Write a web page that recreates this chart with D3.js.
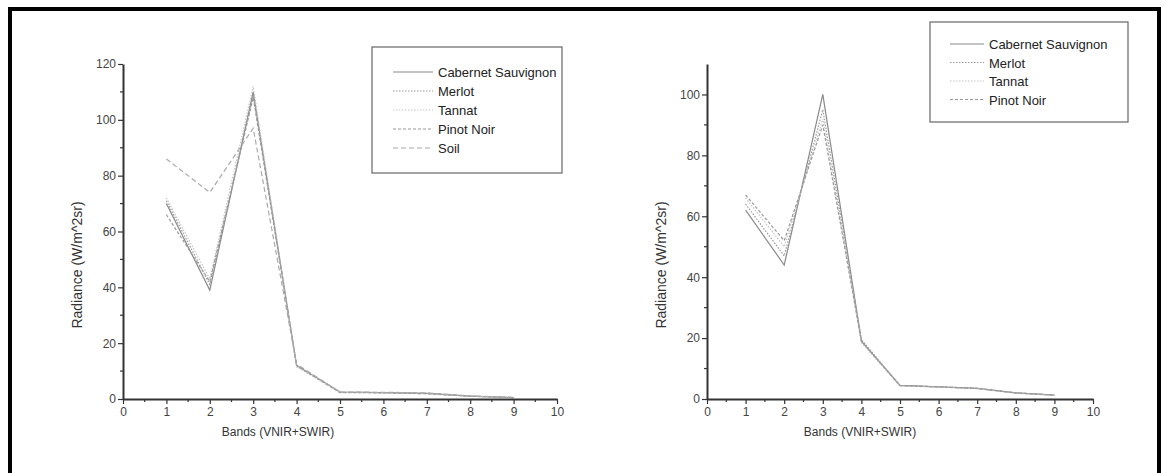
<!DOCTYPE html>
<html>
<head>
<meta charset="utf-8">
<script src="https://cdn.jsdelivr.net/npm/d3@7"></script>
<style>
  body { margin: 0; background: #fff; }
  svg { display: block; }
</style>
</head>
<body>
<svg id="chart" width="1167" height="473"></svg>
<script>
const bands = [1, 2, 3, 4, 5, 6, 7, 8, 9];

// left panel
const leftCabernet = [70, 39, 110, 12, 2.5, 2.3, 2, 1, 0.5];
const leftMerlot = [71, 41, 109, 12, 2.4, 2.3, 2, 1, 0.5];
const leftTannat = [72, 43, 112, 11.5, 2.4, 2.2, 1.9, 1, 0.5];
const leftPinot = [66, 42, 108, 12, 2.3, 2.2, 1.9, 1, 0.5];
const leftSoil = [86, 74, 97, 12.5, 2.5, 2.4, 2.2, 1.1, 0.6];

// right panel
const rightCabernet = [62, 44, 100, 19, 4.5, 4, 3.5, 2, 1.3];
const rightMerlot = [64, 47, 95, 19.5, 4.4, 4, 3.5, 2, 1.3];
const rightTannat = [66, 50, 92, 18.5, 4.3, 3.9, 3.4, 1.9, 1.2];
const rightPinot = [67, 52, 90, 19, 4.4, 4, 3.5, 2, 1.3];

const xTicks = d3.range(0, 11);
const leftYTicks = [0, 20, 40, 60, 80, 100, 120];
const rightYTicks = [0, 20, 40, 60, 80, 100];

const styles = {
  "Cabernet Sauvignon": { color: "#8a8a8a", dash: null },
  "Merlot": { color: "#9a9a9a", dash: "1.5 1.5" },
  "Tannat": { color: "#c4c4c4", dash: "1.5 1.5" },
  "Pinot Noir": { color: "#999", dash: "3 2" },
  "Soil": { color: "#aaa", dash: "5 3" },
};

const svg = d3.select("#chart");

// outer frame
svg.append("path")
  .attr("d", "M10,480 L10,9 L1159,9 L1159,480")
  .attr("fill", "none")
  .attr("stroke", "#000")
  .attr("stroke-width", 4);

function drawPanel(cfg) {
  const g = svg.append("g");
  const x = d3.scaleLinear().domain([0, 10]).range([cfg.x0, cfg.x1]);
  const y = d3.scaleLinear().domain([0, cfg.yMax]).range([cfg.y0, cfg.y1]);

  const line = d3.line()
    .x((d, i) => x(bands[i]))
    .y((d) => y(d));

  cfg.series.forEach((s) => {
    const st = styles[s.name];
    g.append("path")
      .datum(s.values)
      .attr("fill", "none")
      .attr("stroke", st.color)
      .attr("stroke-width", 1.2)
      .attr("stroke-dasharray", st.dash)
      .attr("d", line);
  });

  // minor ticks
  const minorX = d3.range(0.5, 10, 1);
  g.selectAll(".mx").data(minorX).enter().append("line")
    .attr("x1", (d) => x(d)).attr("x2", (d) => x(d))
    .attr("y1", cfg.y0).attr("y2", cfg.y0 + 3)
    .attr("stroke", "#333").attr("stroke-width", 1.2);
  const minorY = d3.range(10, cfg.yMax, 20);
  g.selectAll(".my").data(minorY).enter().append("line")
    .attr("x1", cfg.x0 - 3).attr("x2", cfg.x0)
    .attr("y1", (d) => y(d)).attr("y2", (d) => y(d))
    .attr("stroke", "#333").attr("stroke-width", 1.2);

  const xAxis = g.append("g")
    .attr("transform", `translate(0,${cfg.y0})`)
    .call(d3.axisBottom(x).tickValues(xTicks).tickSize(5).tickSizeOuter(0).tickPadding(3));
  const yAxis = g.append("g")
    .attr("transform", `translate(${cfg.x0},0)`)
    .call(d3.axisLeft(y).tickValues(cfg.yTicks).tickSize(5).tickSizeOuter(0).tickPadding(2));

  [xAxis, yAxis].forEach((a) => {
    a.attr("color", "#333");
    a.select(".domain").attr("stroke", "#333").attr("stroke-width", 2);
    a.selectAll(".tick line").attr("stroke", "#333").attr("stroke-width", 1.2);
    a.selectAll("text")
      .attr("fill", "#444")
      .attr("font-family", "Liberation Sans, Arial, sans-serif")
      .attr("font-size", "12px");
  });

  g.append("text")
    .attr("x", cfg.xLabelX)
    .attr("y", cfg.y0 + 37)
    .attr("text-anchor", "middle")
    .attr("font-family", "Liberation Sans, Arial, sans-serif")
    .attr("font-size", "12px")
    .attr("fill", "#333")
    .text("Bands (VNIR+SWIR)");

  g.append("text")
    .attr("transform", `translate(${cfg.x0 - 41},${cfg.yLabelY}) rotate(-90)`)
    .attr("text-anchor", "middle")
    .attr("font-family", "Liberation Sans, Arial, sans-serif")
    .attr("font-size", "14px")
    .attr("fill", "#333")
    .text("Radiance (W/m^2sr)");

  // legend
  const lg = cfg.legend;
  g.append("rect")
    .attr("x", lg.x).attr("y", lg.y)
    .attr("width", lg.w).attr("height", lg.h)
    .attr("fill", "#fff")
    .attr("stroke", "#666").attr("stroke-width", 1.2);
  cfg.series.forEach((s, i) => {
    const st = styles[s.name];
    const ry = lg.y + lg.first + i * lg.step;
    g.append("line")
      .attr("x1", lg.x + lg.lineX0).attr("x2", lg.x + lg.lineX1)
      .attr("y1", ry).attr("y2", ry)
      .attr("stroke", st.color).attr("stroke-width", 1.2)
      .attr("stroke-dasharray", st.dash);
    g.append("text")
      .attr("x", lg.x + lg.lineX1 + 5)
      .attr("y", ry + 5)
      .attr("font-family", "Liberation Sans, Arial, sans-serif")
      .attr("font-size", "13px")
      .attr("fill", "#222")
      .text(s.name);
  });
}

drawPanel({
  x0: 123, x1: 557, y0: 399, y1: 64, yMax: 120, yTicks: leftYTicks,
  xLabelX: 278, yLabelY: 265,
  series: [
    { name: "Cabernet Sauvignon", values: leftCabernet },
    { name: "Merlot", values: leftMerlot },
    { name: "Tannat", values: leftTannat },
    { name: "Pinot Noir", values: leftPinot },
    { name: "Soil", values: leftSoil },
  ],
  legend: { x: 372, y: 47, w: 190, h: 126, first: 25, step: 19, lineX0: 21, lineX1: 61 },
});

drawPanel({
  x0: 707, x1: 1093, y0: 399, y1: 64, yMax: 110, yTicks: rightYTicks,
  xLabelX: 860, yLabelY: 265,
  series: [
    { name: "Cabernet Sauvignon", values: rightCabernet },
    { name: "Merlot", values: rightMerlot },
    { name: "Tannat", values: rightTannat },
    { name: "Pinot Noir", values: rightPinot },
  ],
  legend: { x: 930, y: 22, w: 198, h: 100, first: 22, step: 18.5, lineX0: 20, lineX1: 54 },
});
</script>
</body>
</html>
